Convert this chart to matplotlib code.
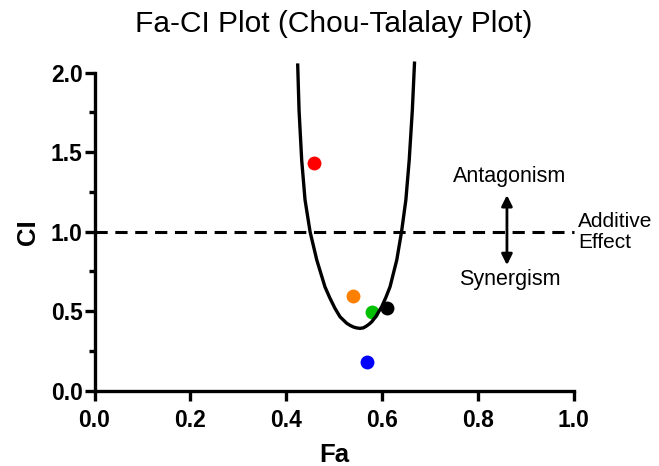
import matplotlib
matplotlib.use("Agg")
import matplotlib.pyplot as plt
from matplotlib.ticker import MultipleLocator, FormatStrFormatter

plt.rcParams['font.family'] = ['Liberation Sans', 'DejaVu Sans']

# data points (Fa, CI)
pt_fa = [0.459, 0.539, 0.579, 0.610, 0.568]
pt_ci = [1.43, 0.598, 0.497, 0.522, 0.182]
pt_colors = ['#ff0000', '#ff8000', '#00c000', '#000000', '#0000ff']

# fitted curve
curve_fa = [0.4242, 0.427, 0.4325, 0.4395, 0.450, 0.464, 0.481, 0.491, 0.502,
            0.5125, 0.5265, 0.534, 0.541, 0.547, 0.554, 0.561, 0.567, 0.573,
            0.579, 0.587, 0.5995, 0.608, 0.617, 0.631, 0.641, 0.650, 0.657,
            0.6635, 0.668]
curve_ci = [2.048, 1.765, 1.451, 1.20, 1.0, 0.822, 0.654, 0.585, 0.518,
            0.465, 0.424, 0.410, 0.400, 0.395, 0.392, 0.395, 0.405, 0.418,
            0.434, 0.465, 0.528, 0.585, 0.654, 0.822, 1.0, 1.20, 1.451,
            1.765, 2.06]

fig = plt.figure(figsize=(6.59, 4.66), dpi=100)
ax = fig.add_axes([0.1434, 0.1616, 0.7269, 0.6824])

ax.plot(curve_fa, curve_ci, color='black', lw=2.4, clip_on=False, zorder=3)
ax.plot([0, 1], [1, 1], color='black', lw=2.2, ls=(0, (4, 2.5)), clip_on=False)
for f, c, col in zip(pt_fa, pt_ci, pt_colors):
    ax.plot(f, c, 'o', color=col, ms=10, mec='none', zorder=2, clip_on=False)

ax.set_xlim(0, 1)
ax.set_ylim(0, 2)
ax.xaxis.set_major_locator(MultipleLocator(0.2))
ax.yaxis.set_major_locator(MultipleLocator(0.5))
ax.yaxis.set_minor_locator(MultipleLocator(0.25))

for s in ['top', 'right']:
    ax.spines[s].set_visible(False)
for s in ['left', 'bottom']:
    ax.spines[s].set_linewidth(2.4)

ax.tick_params(which='major', direction='out', length=7, width=2.4, labelsize=16.5)
ax.tick_params(which='minor', direction='out', length=4, width=2.4)
ax.tick_params(axis='x', pad=6)
ax.tick_params(axis='y', pad=1.5)
ax.xaxis.set_major_formatter(FormatStrFormatter('%.1f'))
ax.yaxis.set_major_formatter(FormatStrFormatter('%.1f'))
for lab in ax.get_xticklabels() + ax.get_yticklabels():
    lab.set_fontweight('bold')

ax.set_xlabel('Fa', fontsize=18.5, fontweight='bold', labelpad=8)
ax.set_ylabel('CI', fontsize=18.5, fontweight='bold', labelpad=8)
ax.set_title('Fa-CI Plot (Chou-Talalay Plot)', fontsize=21.5, pad=29)

ax.text(0.867, 1.35, 'Antagonism', ha='center', va='center', fontsize=15.5)
ax.text(0.867, 0.70, 'Synergism', ha='center', va='center', fontsize=15.5)
ax.annotate('', xy=(0.861, 1.23), xytext=(0.861, 0.79),
            arrowprops=dict(arrowstyle='<|-|>', color='black', lw=2,
                            mutation_scale=16, shrinkA=0, shrinkB=0))
ax.text(1.009, 1.0, 'Additive\nEffect', ha='left', va='center', fontsize=15,
        linespacing=1.15, clip_on=False)

fig.savefig('out.png', dpi=100)
